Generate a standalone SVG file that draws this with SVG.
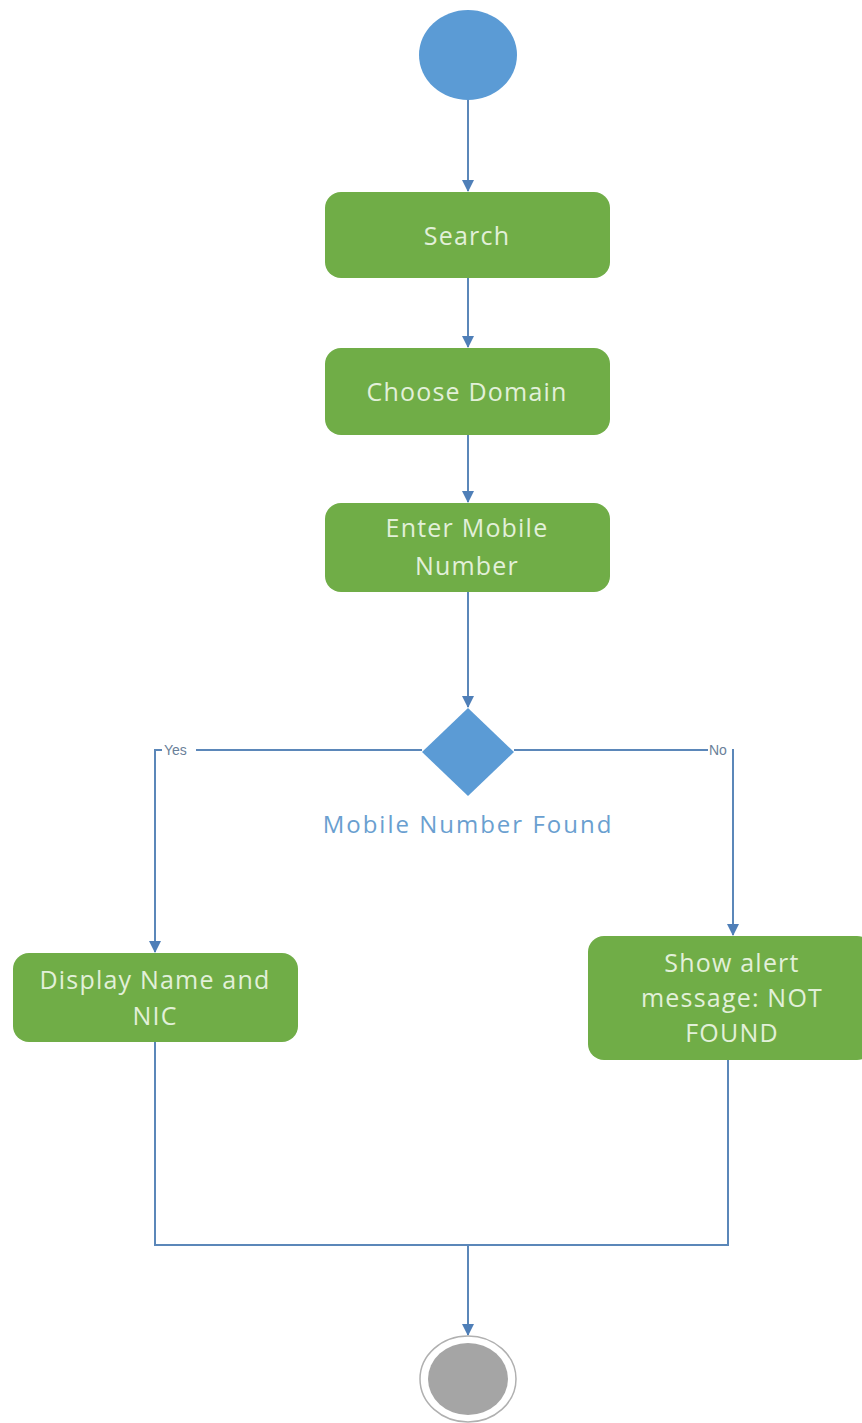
<svg xmlns="http://www.w3.org/2000/svg" width="862" height="1423" viewBox="0 0 862 1423">
  <style>
    .act { fill: #70ad47; }
    .act-text { font-family: "Open Sans", "Liberation Sans", sans-serif; font-size: 25px; letter-spacing: 1.2px; fill: #e2f0d9; text-anchor: middle; }
    .flow { fill: none; stroke: #5b87b9; stroke-width: 2; }
    .guard { font-family: "Liberation Sans", sans-serif; font-size: 14px; fill: #6a7f99; }
    .note { font-family: "Open Sans", "Liberation Sans", sans-serif; font-size: 24px; letter-spacing: 2px; fill: #6a9fd0; text-anchor: middle; }
  </style>
  <defs>
    <marker id="arrow" viewBox="0 0 12 12" refX="11" refY="6" markerWidth="12" markerHeight="12" markerUnits="userSpaceOnUse" orient="auto">
      <path d="M0,0 L12,6 L0,12 Z" fill="#4f7fb8"/>
    </marker>
  </defs>
  <rect width="862" height="1423" fill="#ffffff"/>

  <!-- connectors -->
  <g id="connectors">
    <line class="flow" x1="468" y1="100" x2="468" y2="191" marker-end="url(#arrow)"/>
    <line class="flow" x1="468" y1="278" x2="468" y2="347" marker-end="url(#arrow)"/>
    <line class="flow" x1="468" y1="435" x2="468" y2="502" marker-end="url(#arrow)"/>
    <line class="flow" x1="468" y1="592" x2="468" y2="707" marker-end="url(#arrow)"/>
    <polyline class="flow" points="422,750 155,750 155,952" marker-end="url(#arrow)"/>
    <polyline class="flow" points="514,750 733,750 733,935" marker-end="url(#arrow)"/>
    <polyline class="flow" points="155,1042 155,1245 728,1245 728,1060"/>
    <line class="flow" x1="468" y1="1245" x2="468" y2="1335" marker-end="url(#arrow)"/>
    <rect x="162" y="742" width="34" height="16" fill="#ffffff"/>
    <text class="guard" x="164" y="755">Yes</text>
    <rect x="708" y="742" width="24" height="16" fill="#ffffff"/>
    <text class="guard" x="709" y="755">No</text>
  </g>

  <!-- start -->
  <g id="start">
    <ellipse cx="468" cy="55" rx="49" ry="45" fill="#5b9bd5"/>
  </g>

  <g id="search">
    <rect class="act" x="325" y="192" width="285" height="86" rx="16"/>
    <text class="act-text" x="467" y="245">Search</text>
  </g>

  <g id="choose-domain">
    <rect class="act" x="325" y="348" width="285" height="87" rx="16"/>
    <text class="act-text" x="467" y="401">Choose Domain</text>
  </g>

  <g id="enter-mobile">
    <rect class="act" x="325" y="503" width="285" height="89" rx="16"/>
    <text class="act-text" x="467" y="537">Enter Mobile</text>
    <text class="act-text" x="467" y="575">Number</text>
  </g>

  <g id="decision">
    <polygon points="468,708 514,752 468,796 422,752" fill="#5b9bd5"/>
    <text class="note" x="468" y="833">Mobile Number Found</text>
  </g>

  <g id="display-name">
    <rect class="act" x="13" y="953" width="285" height="89" rx="16"/>
    <text class="act-text" x="155" y="989">Display Name and</text>
    <text class="act-text" x="155" y="1025">NIC</text>
  </g>

  <g id="show-alert">
    <rect class="act" x="588" y="936" width="285" height="124" rx="16"/>
    <text class="act-text" x="732" y="972">Show alert</text>
    <text class="act-text" x="732" y="1007">message: NOT</text>
    <text class="act-text" x="732" y="1042">FOUND</text>
  </g>

  <!-- end -->
  <g id="end">
    <ellipse cx="468" cy="1379" rx="48" ry="43" fill="#ffffff" stroke="#b0b0b0" stroke-width="1.5"/>
    <ellipse cx="468" cy="1379" rx="40" ry="36" fill="#a5a5a5"/>
  </g>
</svg>
